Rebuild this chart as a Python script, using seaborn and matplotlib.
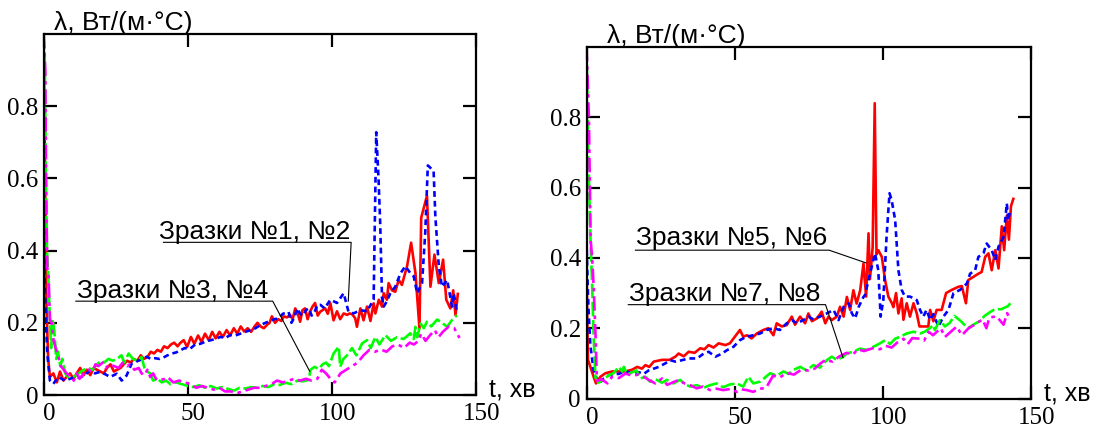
import matplotlib
matplotlib.use("Agg")
import matplotlib.pyplot as plt
from matplotlib.transforms import ScaledTranslation
import seaborn as sns

# ---- left chart: samples 1-4 ----
t_s1 = [0, 0.5, 1.0, 1.6, 2.2, 3.4, 4.6, 5.7, 6.9, 8.0,
        9.2, 10.4, 11.5, 12.7, 13.9, 15.0, 16.2, 17.4, 18.5, 19.7,
        20.9, 22.0, 23.2, 24.4, 25.5, 26.7, 27.8, 29.0, 30.2, 31.3,
        32.5, 33.7, 34.8, 36.0, 37.2, 38.3, 39.5, 40.7, 41.8, 43.0,
        44.2, 45.3, 46.5, 47.4, 48.6, 49.8, 51.1, 52.3, 53.6, 54.8,
        56.0, 57.3, 58.5, 59.7, 61.0, 62.2, 63.5, 64.7, 66.0, 67.2,
        68.4, 69.6, 70.8, 72.0, 73.2, 74.2, 75.3, 76.4, 77.6, 78.4,
        79.2, 80.3, 81.4, 82.5, 83.3, 84.4, 85.5, 86.4, 87.3, 88.2,
        89.0, 89.8, 90.7, 91.6, 92.4, 93.3, 94.2, 95.1, 96.0, 97.7,
        98.6, 99.5, 100.6, 101.8, 102.9, 104.1, 105.3, 106.2, 107.0, 108.1,
        108.7, 109.9, 111.0, 112.2, 113.4, 114.5, 115.1, 116.3, 117.4, 118.0,
        119.1, 119.7, 120.9, 122.0, 123.2, 124.3, 126.1, 127.5, 129.0, 130.4,
        131.0, 133.0, 134.2, 135.6, 137.1, 138.6, 139.7, 141.1, 142.1, 142.9,
        143.7]
lam_s1 = [1.0, 0.62, 0.25, 0.10, 0.05, 0.06, 0.035, 0.065, 0.04, 0.05,
          0.06, 0.045, 0.06, 0.075, 0.055, 0.07, 0.055, 0.075, 0.07, 0.065,
          0.06, 0.075, 0.085, 0.065, 0.07, 0.075, 0.085, 0.095, 0.09, 0.1,
          0.095, 0.11, 0.1, 0.105, 0.12, 0.115, 0.125, 0.12, 0.135, 0.13,
          0.14, 0.145, 0.135, 0.144, 0.152, 0.133, 0.161, 0.142, 0.165, 0.147,
          0.17, 0.152, 0.175, 0.157, 0.175, 0.161, 0.18, 0.165, 0.185, 0.17,
          0.19, 0.176, 0.185, 0.175, 0.19, 0.2, 0.19, 0.185, 0.195, 0.2,
          0.218, 0.2, 0.21, 0.205, 0.218, 0.215, 0.222, 0.21, 0.24, 0.225,
          0.203, 0.235, 0.24, 0.21, 0.23, 0.245, 0.255, 0.22, 0.231, 0.24,
          0.225, 0.254, 0.207, 0.232, 0.21, 0.226, 0.222, 0.226, 0.224, 0.213,
          0.189, 0.24, 0.207, 0.245, 0.205, 0.254, 0.226, 0.264, 0.245, 0.282,
          0.264, 0.31, 0.29, 0.286, 0.319, 0.305, 0.357, 0.422, 0.338, 0.185,
          0.491, 0.552, 0.3, 0.389, 0.31, 0.375, 0.264, 0.24, 0.29, 0.221,
          0.28]

t_s2 = [0, 0.3, 0.8, 1.3, 2.2, 3.4, 5.1, 7.4, 9.2, 10.9,
        12.5, 14.3, 16.1, 17.8, 19.6, 21.3, 23.1, 25.4, 27.1, 28.8,
        30.6, 32.0, 33.5, 35.8, 37.2, 38.7, 40.2, 41.6, 43.0, 44.5,
        46.0, 47.4, 49.0, 50.8, 52.6, 54.4, 56.2, 58.0, 59.6, 61.3,
        63.0, 64.8, 66.6, 68.3, 70.0, 71.8, 73.5, 75.2, 77.0, 78.5,
        80.0, 81.5, 83.0, 85.0, 86.0, 87.0, 88.0, 89.0, 90.0, 91.0,
        92.0, 93.0, 94.0, 95.0, 96.0, 97.5, 99.5, 101.8, 104.1, 105.8,
        107.5, 109.9, 112.2, 114.5, 115.4, 116.2, 116.8, 117.4, 118.0, 119.1,
        120.3, 122.0, 123.8, 125.5, 127.2, 128.4, 129.6, 131.3, 132.4, 133.3,
        135.3, 135.9, 137.1, 138.2, 140.0, 141.7, 142.3, 143.4]
lam_s2 = [1.0, 0.35, 0.21, 0.115, 0.04, 0.031, 0.05, 0.04, 0.045, 0.05,
          0.048, 0.055, 0.068, 0.06, 0.064, 0.058, 0.05, 0.059, 0.04, 0.054,
          0.088, 0.092, 0.097, 0.106, 0.1, 0.102, 0.1, 0.104, 0.11, 0.115,
          0.118, 0.124, 0.13, 0.128, 0.14, 0.142, 0.148, 0.152, 0.155, 0.161,
          0.158, 0.166, 0.165, 0.17, 0.175, 0.18, 0.185, 0.194, 0.2, 0.205,
          0.21, 0.212, 0.225, 0.23, 0.2, 0.215, 0.24, 0.225, 0.22, 0.235,
          0.24, 0.22, 0.23, 0.25, 0.25, 0.24, 0.264, 0.255, 0.282, 0.23,
          0.226, 0.235, 0.232, 0.264, 0.728, 0.6, 0.47, 0.27, 0.245, 0.26,
          0.282, 0.3, 0.337, 0.357, 0.338, 0.329, 0.282, 0.31, 0.45, 0.636,
          0.621, 0.496, 0.357, 0.3, 0.319, 0.245, 0.282, 0.226]

t_s3 = [0, 0.4, 0.8, 1.2, 1.6, 2.2, 2.6, 3.2, 3.8, 4.4,
        5.0, 5.8, 6.5, 7.5, 8.5, 10.0, 11.5, 13.0, 14.0, 15.5,
        17.0, 18.5, 20.0, 21.0, 22.5, 24.0, 25.5, 27.0, 28.0, 29.5,
        31.0, 32.5, 34.0, 35.0, 36.0, 37.0, 38.0, 39.5, 41.0, 42.5,
        44.0, 46.0, 48.0, 50.0, 52.0, 54.0, 56.0, 58.0, 60.0, 62.0,
        64.0, 66.0, 68.0, 70.0, 72.0, 74.0, 76.0, 78.0, 80.0, 82.0,
        84.0, 86.0, 88.0, 90.0, 92.0, 92.6, 94.0, 95.5, 96.8, 98.0,
        99.0, 100.6, 102.4, 102.9, 104.0, 105.3, 107.0, 108.5, 110.5, 112.2,
        113.5, 115.1, 116.5, 118.6, 120.5, 122.6, 124.9, 127.2, 128.4, 129.0,
        129.6, 130.8, 131.9, 133.0, 134.5, 136.5, 138.2, 140.0, 141.7, 143.4]
lam_s3 = [1.0, 0.95, 0.6, 0.4, 0.33, 0.21, 0.13, 0.21, 0.17, 0.1,
          0.12, 0.08, 0.1, 0.06, 0.05, 0.05, 0.055, 0.065, 0.07, 0.075,
          0.07, 0.085, 0.095, 0.09, 0.1, 0.095, 0.1, 0.11, 0.09, 0.115,
          0.1, 0.095, 0.105, 0.075, 0.065, 0.06, 0.04, 0.045, 0.035, 0.04,
          0.03, 0.035, 0.03, 0.025, 0.022, 0.027, 0.02, 0.025, 0.018, 0.022,
          0.017, 0.012, 0.02, 0.018, 0.022, 0.02, 0.025, 0.022, 0.03, 0.028,
          0.034, 0.03, 0.04, 0.038, 0.042, 0.07, 0.078, 0.072, 0.085, 0.09,
          0.08, 0.115, 0.134, 0.078, 0.1, 0.11, 0.13, 0.11, 0.143, 0.152,
          0.13, 0.161, 0.14, 0.166, 0.15, 0.16, 0.155, 0.171, 0.155, 0.189,
          0.16, 0.198, 0.185, 0.203, 0.19, 0.209, 0.2, 0.189, 0.208, 0.221]

t_s4 = [0, 0.6, 0.9, 1.3, 1.7, 2.2, 2.8, 3.5, 4.2, 5.0,
        6.0, 7.0, 8.0, 9.5, 10.5, 11.5, 12.5, 14.0, 15.5, 17.0,
        18.0, 19.0, 20.5, 21.5, 23.0, 24.5, 26.0, 27.5, 29.0, 30.0,
        31.5, 33.0, 34.0, 35.0, 36.0, 37.0, 38.0, 39.0, 40.0, 42.0,
        43.0, 45.0, 47.0, 49.0, 51.0, 53.0, 55.0, 57.0, 59.0, 61.0,
        63.0, 65.0, 67.0, 69.0, 71.0, 73.0, 75.0, 77.0, 79.0, 81.0,
        83.0, 85.0, 87.0, 89.0, 91.0, 93.0, 95.0, 96.5, 98.0, 100.0,
        101.0, 103.0, 105.0, 107.0, 109.0, 111.0, 113.0, 115.0, 117.0, 119.0,
        121.0, 123.0, 125.0, 127.0, 128.5, 130.0, 131.0, 132.5, 134.0, 135.7,
        137.0, 138.5, 140.6, 142.4, 144.3]
lam_s4 = [1.0, 0.9, 0.57, 0.35, 0.34, 0.21, 0.2, 0.15, 0.13, 0.11,
          0.08, 0.07, 0.06, 0.05, 0.04, 0.06, 0.045, 0.06, 0.07, 0.065,
          0.085, 0.08, 0.09, 0.075, 0.085, 0.08, 0.075, 0.09, 0.08, 0.085,
          0.07, 0.075, 0.06, 0.055, 0.07, 0.05, 0.06, 0.045, 0.04, 0.045,
          0.05, 0.035, 0.04, 0.035, 0.03, 0.02, 0.025, 0.02, 0.015, 0.02,
          0.01, 0.01, 0.005, 0.01, 0.015, 0.02, 0.02, 0.025, 0.03, 0.04,
          0.035, 0.04, 0.045, 0.04, 0.045, 0.04, 0.045, 0.07, 0.06, 0.04,
          0.035, 0.06, 0.07, 0.08, 0.09, 0.11, 0.125, 0.12, 0.126, 0.12,
          0.135, 0.14, 0.13, 0.145, 0.14, 0.15, 0.17, 0.15, 0.165, 0.18,
          0.16, 0.175, 0.19, 0.186, 0.158]

# ---- right chart: samples 5-8 ----
t_s5 = [0, 0.3, 0.5, 1.3, 2.4, 3.2, 4.7, 6.4, 8.6, 10.9,
        13.1, 15.4, 17.1, 18.7, 19.9, 21.2, 22.7, 25.5, 28.0, 30.0,
        31.1, 32.8, 34.5, 36.5, 38.4, 39.8, 41.2, 42.9, 44.6, 46.9,
        48.4, 50.1, 51.8, 52.9, 54.2, 55.7, 57.5, 59.7, 61.4, 63.1,
        64.2, 65.9, 67.6, 69.3, 70.4, 72.1, 73.8, 74.9, 76.1, 77.8,
        79.4, 80.6, 81.7, 82.8, 84.5, 85.6, 86.8, 87.9, 89.0, 90.1,
        91.2, 92.4, 93.5, 94.4, 95.2, 95.7, 96.6, 97.3, 97.9, 98.5,
        99.7, 100.8, 101.9, 103.1, 103.6, 104.5, 105.3, 106.4, 107.0, 108.1,
        109.2, 110.4, 111.5, 112.4, 113.7, 115.4, 116.0, 117.1, 118.2, 119.9,
        121.4, 123.3, 125.6, 126.7, 128.1, 128.9, 130.6, 132.3, 133.4, 134.6,
        135.7, 136.8, 138.0, 139.1, 140.2, 141.0, 141.9, 142.6, 143.3, 144.1]
lam_s5 = [0.38, 0.2, 0.11, 0.09, 0.062, 0.043, 0.062, 0.072, 0.077, 0.077,
          0.077, 0.082, 0.09, 0.085, 0.095, 0.09, 0.105, 0.11, 0.11, 0.119,
          0.128, 0.12, 0.133, 0.13, 0.143, 0.14, 0.152, 0.145, 0.157, 0.152,
          0.157, 0.176, 0.195, 0.176, 0.18, 0.171, 0.185, 0.195, 0.2, 0.18,
          0.214, 0.205, 0.209, 0.233, 0.21, 0.233, 0.214, 0.242, 0.22, 0.228,
          0.247, 0.214, 0.233, 0.223, 0.233, 0.261, 0.233, 0.289, 0.252, 0.308,
          0.27, 0.308, 0.384, 0.29, 0.47, 0.34, 0.43, 0.84, 0.41, 0.422,
          0.403, 0.337, 0.29, 0.271, 0.26, 0.3, 0.242, 0.285, 0.224, 0.271,
          0.233, 0.271, 0.242, 0.205, 0.205, 0.205, 0.252, 0.22, 0.252, 0.252,
          0.3, 0.309, 0.318, 0.32, 0.271, 0.337, 0.346, 0.355, 0.36, 0.403,
          0.413, 0.365, 0.422, 0.37, 0.49, 0.422, 0.52, 0.452, 0.547, 0.568]

t_s6 = [0, 0.4, 0.7, 1.3, 2.4, 4.1, 5.8, 7.5, 9.2, 10.9,
        12.6, 14.2, 15.9, 17.6, 19.3, 21.0, 22.7, 24.4, 26.6, 28.3,
        30.0, 32.2, 34.5, 37.3, 39.6, 41.2, 43.5, 45.8, 47.3, 49.6,
        51.8, 54.0, 56.3, 58.6, 60.8, 63.1, 65.3, 67.6, 69.3, 71.0,
        73.2, 74.9, 76.6, 78.8, 81.1, 83.4, 85.1, 86.8, 88.5, 89.6,
        90.7, 91.9, 93.5, 94.0, 95.2, 96.3, 97.4, 98.5, 99.3, 100.2,
        101.3, 102.3, 103.0, 104.2, 105.3, 106.4, 107.5, 109.2, 110.4, 111.5,
        112.6, 113.7, 114.8, 116.0, 117.1, 118.8, 120.5, 122.2, 123.9, 126.1,
        128.4, 129.5, 131.2, 132.3, 134.0, 135.1, 136.8, 138.0, 139.1, 140.8,
        141.9, 142.4, 142.9]
lam_s6 = [0.45, 0.32, 0.25, 0.15, 0.08, 0.042, 0.057, 0.066, 0.07, 0.07,
          0.076, 0.075, 0.07, 0.075, 0.07, 0.08, 0.085, 0.09, 0.1, 0.109,
          0.105, 0.109, 0.114, 0.114, 0.128, 0.133, 0.119, 0.128, 0.137, 0.147,
          0.166, 0.176, 0.18, 0.185, 0.195, 0.2, 0.195, 0.214, 0.223, 0.214,
          0.223, 0.233, 0.225, 0.233, 0.242, 0.252, 0.223, 0.261, 0.271, 0.242,
          0.228, 0.261, 0.289, 0.294, 0.337, 0.375, 0.413, 0.365, 0.233, 0.28,
          0.46, 0.584, 0.565, 0.508, 0.365, 0.309, 0.29, 0.29, 0.285, 0.28,
          0.252, 0.233, 0.252, 0.224, 0.24, 0.205, 0.233, 0.252, 0.3, 0.309,
          0.327, 0.355, 0.365, 0.403, 0.413, 0.441, 0.422, 0.394, 0.432, 0.46,
          0.555, 0.508, 0.528]

t_s7 = [0, 0.6, 1.3, 1.9, 2.4, 3.0, 4.0, 5.7, 7.5, 9.1,
        10.9, 12.0, 12.6, 13.7, 14.7, 16.9, 18.2, 19.9, 21.4, 22.7,
        23.7, 25.5, 27.1, 29.3, 31.6, 33.3, 35.0, 37.2, 39.4, 41.7,
        43.9, 46.1, 48.4, 50.7, 52.9, 54.6, 56.3, 58.6, 60.3, 62.0,
        64.2, 66.5, 68.2, 69.8, 72.1, 74.3, 76.6, 78.8, 81.1, 82.8,
        84.5, 86.7, 87.8, 90.1, 92.3, 94.6, 96.8, 99.1, 100.8, 102.5,
        104.2, 105.9, 108.1, 110.4, 112.6, 114.2, 115.9, 117.0, 117.6, 119.3,
        121.0, 122.6, 124.2, 126.4, 128.7, 131.0, 132.7, 134.4, 136.1, 137.8,
        140.0, 142.3, 143.4]
lam_s7 = [1.0, 0.7, 0.46, 0.32, 0.175, 0.06, 0.045, 0.053, 0.066, 0.072,
          0.09, 0.077, 0.09, 0.07, 0.072, 0.08, 0.057, 0.062, 0.048, 0.055,
          0.053, 0.045, 0.053, 0.043, 0.053, 0.04, 0.034, 0.038, 0.03, 0.038,
          0.043, 0.032, 0.04, 0.043, 0.034, 0.062, 0.043, 0.048, 0.06, 0.072,
          0.065, 0.077, 0.07, 0.081, 0.09, 0.08, 0.095, 0.088, 0.109, 0.119,
          0.11, 0.119, 0.128, 0.133, 0.142, 0.138, 0.147, 0.157, 0.166, 0.155,
          0.17, 0.176, 0.185, 0.19, 0.185, 0.19, 0.2, 0.209, 0.195, 0.223,
          0.205, 0.215, 0.235, 0.22, 0.2, 0.212, 0.22, 0.235, 0.245, 0.254,
          0.254, 0.263, 0.274]

t_s8 = [0, 0.8, 1.4, 1.9, 2.4, 3.0, 3.5, 5.0, 7.1, 8.6,
        10.9, 13.1, 15.4, 17.6, 19.3, 21.0, 23.2, 25.5, 27.2, 28.9,
        31.1, 33.3, 35.0, 37.2, 39.4, 41.7, 43.9, 46.1, 48.4, 50.7,
        52.4, 54.1, 56.3, 58.6, 60.6, 63.0, 65.3, 67.5, 70.0, 72.5,
        75.0, 77.0, 79.0, 80.7, 83.0, 85.4, 87.8, 90.0, 91.5, 93.7,
        95.5, 97.0, 99.0, 101.0, 103.0, 105.0, 107.0, 108.5, 110.0, 112.5,
        114.0, 115.5, 117.0, 119.6, 121.0, 123.0, 125.0, 126.7, 129.0, 131.0,
        133.7, 135.0, 136.0, 138.4, 140.8, 142.0, 143.0]
lam_s8 = [1.0, 0.8, 0.45, 0.4, 0.32, 0.19, 0.05, 0.055, 0.043, 0.062,
          0.058, 0.071, 0.065, 0.068, 0.062, 0.053, 0.043, 0.057, 0.039, 0.045,
          0.053, 0.042, 0.038, 0.029, 0.034, 0.024, 0.028, 0.024, 0.027, 0.019,
          0.026, 0.024, 0.019, 0.028, 0.03, 0.065, 0.06, 0.073, 0.068, 0.082,
          0.08, 0.085, 0.1, 0.11, 0.105, 0.12, 0.13, 0.125, 0.14, 0.135,
          0.14, 0.144, 0.14, 0.15, 0.145, 0.16, 0.17, 0.155, 0.172, 0.17,
          0.165, 0.19, 0.18, 0.2, 0.175, 0.19, 0.205, 0.18, 0.2, 0.21,
          0.225, 0.2, 0.23, 0.234, 0.21, 0.243, 0.225]

x_ticks = [0, 50, 100, 150]
y_ticks = [0, 0.2, 0.4, 0.6, 0.8]
y_tick_labels = ["0", "0.2", "0.4", "0.6", "0.8"]
labels_left = ["Зразки №1, №2", "Зразки №3, №4"]
labels_right = ["Зразки №5, №6", "Зразки №7, №8"]

# line looks: red solid, blue short dashes, green long dashes, magenta dash-dot
looks = [("#ff0000", "-"), ("#0000ff", (0, (2.2, 1.5))),
         ("#00ff00", (0, (5.5, 1.4))), ("#ff00ff", (0, (5.5, 1.8, 1.4, 1.8)))]

plt.rcParams["font.family"] = ["Liberation Sans", "DejaVu Sans"]

fig = plt.figure(figsize=(11, 4.32), dpi=100)
ax1 = fig.add_axes([0.0396, 0.0856, 0.3931, 0.8356])
ax2 = fig.add_axes([0.5332, 0.0775, 0.4039, 0.8137])


def draw(ax, series):
    for (t, lam), (col, ls) in zip(series, looks):
        sns.lineplot(x=t, y=lam, ax=ax, color=col, linestyle=ls, lw=1.9,
                     estimator=None, sort=False, legend=False)
    ax.set_xlim(0, 150)
    ax.set_ylim(0, 1)
    ax.set_xticks(x_ticks)
    ax.set_yticks(y_ticks)
    ax.set_yticklabels(y_tick_labels)
    ax.set_xlabel("")
    ax.set_ylabel("")
    for s in ax.spines.values():
        s.set_linewidth(1.6)
    ax.tick_params(direction="in", length=9.5, width=1.6, top=True, right=True,
                   labelsize=18)
    ax.tick_params(axis="x", pad=6)
    ax.tick_params(axis="y", pad=4)
    for lbl in ax.get_xticklabels() + ax.get_yticklabels():
        lbl.set_fontfamily("Liberation Serif")
    for lbl in ax.get_xticklabels():
        lbl.set_transform(lbl.get_transform() + ScaledTranslation(4 / 72, 0, fig.dpi_scale_trans))
    ax.text(1.03, -0.005, "t, хв", transform=ax.transAxes, fontsize=18,
            ha="left", va="baseline")


draw(ax1, [(t_s1, lam_s1), (t_s2, lam_s2), (t_s3, lam_s3), (t_s4, lam_s4)])
draw(ax2, [(t_s5, lam_s5), (t_s6, lam_s6), (t_s7, lam_s7), (t_s8, lam_s8)])

ax1.text(0.025, 1.012, "λ, Вт/(м·°С)", transform=ax1.transAxes, fontsize=19,
         va="baseline")
ax2.text(0.047, 1.012, "λ, Вт/(м·°С)", transform=ax2.transAxes, fontsize=19,
         va="baseline")

# labels with underline and leader line
ax1.text(40.1, 0.432, labels_left[0], fontsize=19, va="baseline")
ax1.plot([41.6, 106.7, 105.7], [0.423, 0.423, 0.26], color="k", lw=0.8)
ax1.text(11.6, 0.269, labels_left[1], fontsize=19, va="baseline")
ax1.plot([11.2, 79.5, 92.3], [0.26, 0.26, 0.066], color="k", lw=0.8)

ax2.text(16.8, 0.436, labels_right[0], fontsize=19, va="baseline")
ax2.plot([16.5, 81.9, 94.3], [0.422, 0.422, 0.386], color="k", lw=0.8)
ax2.text(14.5, 0.277, labels_right[1], fontsize=19, va="baseline")
ax2.plot([14.1, 80.7, 86.6], [0.267, 0.267, 0.116], color="k", lw=0.8)

fig.savefig("out.png", dpi=100)
